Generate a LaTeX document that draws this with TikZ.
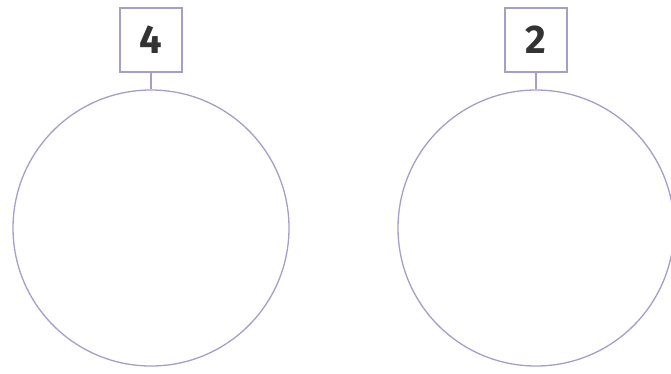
\documentclass[tikz,border=0pt]{standalone}
\usepackage{fontspec}
\setmainfont{Fira Sans}
\definecolor{lav}{HTML}{A89CCB}
\definecolor{ink}{HTML}{333333}
\begin{document}
\begin{tikzpicture}[x=1pt,y=-1pt,
  ring/.style={draw=lav,line width=1.3pt,circle,minimum size=276pt,inner sep=0pt},
  tag/.style={draw=lav,line width=1.3pt,minimum width=62pt,minimum height=64pt,inner sep=0pt,font=\fontsize{40}{40}\selectfont\bfseries,text=ink},
  link/.style={draw=lav,line width=1.3pt}]
\useasboundingbox (0,0) rectangle (671,373);
\node[ring] (c1) at (151,228) {};
\node[ring] (c2) at (536,228) {};
\node[tag] (t1) at (151,40) {4};
\node[tag] (t2) at (536,40) {2};
\draw[link] (t1.south) -- (c1.north);
\draw[link] (t2.south) -- (c2.north);
\end{tikzpicture}
\end{document}
